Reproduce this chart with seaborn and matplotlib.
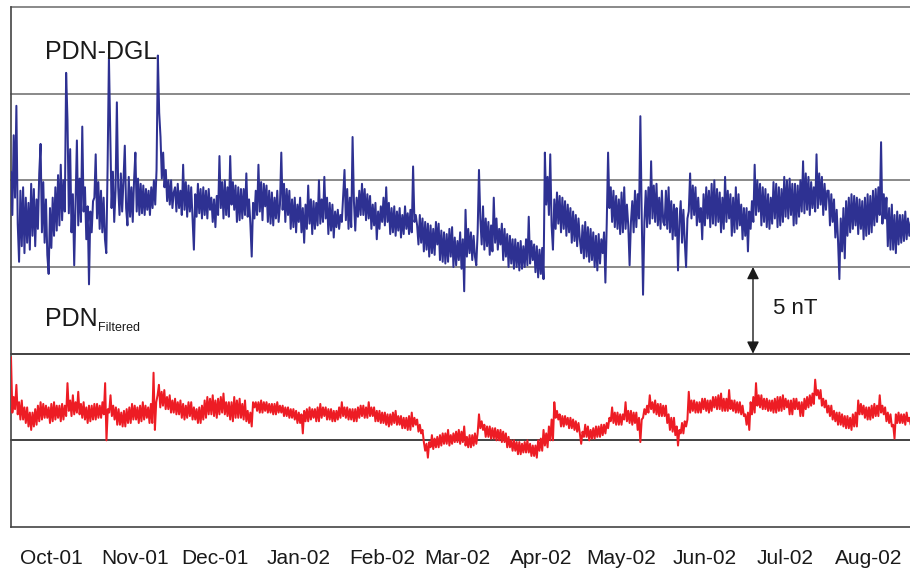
import numpy as np
import pandas as pd
import matplotlib
matplotlib.use("Agg")
import matplotlib.pyplot as plt
import matplotlib.dates as mdates
import seaborn as sns

# Field values (nT), two samples per day, one list per month, Oct 2001 .. Aug 2002
months = ["2001-10", "2001-11", "2001-12", "2002-01", "2002-02", "2002-03",
          "2002-04", "2002-05", "2002-06", "2002-07", "2002-08"]

dgl_oct = [20.5, 18.0, 22.6, 19.0, 24.3, 17.5, 15.3, 19.4, 16.2, 19.6, 15.8, 19.0, 16.4, 18.7, 16.0, 19.8,
           16.8, 19.5, 16.2, 18.9, 17.2, 20.4, 22.1, 17.0, 19.9, 16.4, 18.9, 15.7, 14.6, 18.4, 16.1, 19.0,
           16.8, 19.6, 17.1, 20.3, 17.4, 20.9, 17.7, 20.0, 18.2, 26.2, 23.5, 18.1, 21.8, 17.0, 19.2, 15.1,
           18.8, 22.3, 17.4, 20.1, 17.6, 23.1, 18.2, 19.6, 16.6, 18.5, 14.0, 18.2, 17.0, 18.8]
dgl_nov = [19.0, 21.5, 17.8, 19.9, 17.2, 19.4, 17.0, 19.0, 16.6, 15.8, 20.8, 27.1, 22.8, 18.4, 20.5, 17.6,
           19.4, 24.5, 19.6, 18.0, 20.4, 18.2, 20.0, 22.0, 18.4, 17.4, 20.2, 17.9, 19.6, 17.6, 20.0, 21.6,
           18.2, 20.1, 18.0, 19.8, 18.1, 19.7, 18.0, 19.5, 18.3, 19.4, 18.0, 19.6, 18.4, 20.0, 18.6, 20.6,
           27.2, 23.9, 22.5, 20.1, 21.6, 19.6, 20.6, 18.8, 20.0, 18.6, 20.0, 18.4, 19.3]
dgl_dec = [19.6, 18.2, 19.8, 18.4, 19.4, 18.0, 20.9, 18.3, 19.9, 17.9, 19.7, 18.2, 19.6, 17.8, 16.0, 19.2,
           17.9, 19.8, 18.1, 19.5, 17.8, 19.6, 18.0, 19.4, 17.8, 19.5, 18.3, 19.0, 17.6, 18.9, 17.3, 19.1,
           18.0, 21.4, 18.4, 19.9, 17.8, 20.0, 18.0, 19.6, 17.9, 21.4, 18.6, 19.9, 18.3, 19.7, 17.6, 19.6,
           17.7, 19.5, 17.8, 19.5, 18.0, 20.4, 17.9, 18.9, 17.5, 15.6, 18.7, 17.8, 19.4, 18.0]
dgl_jan = [20.9, 18.2, 19.9, 17.7, 19.8, 18.5, 19.7, 17.6, 19.4, 17.5, 19.3, 17.4, 19.0, 17.8, 19.4, 17.6,
           18.6, 21.6, 18.3, 19.8, 17.6, 19.5, 18.0, 19.4, 17.2, 18.9, 17.3, 19.0, 17.0, 18.6, 17.6, 19.0,
           17.0, 18.4, 16.4, 18.6, 17.2, 19.7, 17.5, 18.9, 16.9, 18.8, 17.2, 18.7, 17.4, 20.0, 17.5, 18.9,
           17.6, 20.2, 17.8, 19.0, 16.9, 18.7, 17.1, 18.6, 16.7, 18.2, 17.3, 18.3, 17.2, 18.0]
dgl_feb = [17.6, 19.1, 20.6, 17.7, 19.5, 17.2, 19.0, 17.3, 22.5, 18.8, 17.1, 19.0, 17.9, 19.4, 18.0, 19.8,
           18.0, 19.5, 17.7, 19.2, 17.8, 19.1, 17.2, 18.6, 17.4, 18.7, 16.6, 18.2, 17.2, 18.5, 17.6, 19.0,
           17.4, 19.6, 17.6, 18.7, 16.9, 18.4, 17.0, 18.5, 16.8, 18.2, 17.1, 18.4, 16.7, 18.0, 16.9, 18.5,
           17.2, 18.1, 16.9, 18.3, 17.0, 20.8, 17.6, 18.0]
dgl_mar = [17.4, 16.3, 18.0, 16.4, 17.8, 15.9, 17.6, 16.0, 17.5, 15.6, 17.4, 15.8, 17.2, 15.7, 17.6, 16.3,
           17.5, 15.4, 17.1, 15.3, 17.0, 15.2, 16.9, 15.3, 17.2, 15.6, 17.3, 15.0, 16.7, 15.1, 16.5, 15.4,
           17.0, 14.9, 16.6, 13.6, 18.3, 15.6, 17.2, 15.8, 17.0, 15.4, 16.8, 15.6, 15.1, 17.0, 20.6, 17.8,
           16.3, 18.5, 16.0, 17.8, 16.2, 17.6, 15.7, 17.4, 15.9, 19.0, 16.4, 17.8, 16.0, 17.2]
dgl_apr = [16.3, 17.5, 15.4, 17.2, 15.6, 16.9, 15.0, 16.8, 15.2, 16.6, 14.9, 16.6, 15.0, 16.4, 14.8, 16.5,
           14.9, 16.2, 15.0, 16.6, 15.1, 17.9, 15.2, 16.5, 15.4, 16.3, 14.7, 16.2, 14.4, 16.0, 14.6, 16.1,
           14.3, 21.6, 18.6, 20.2, 18.0, 21.5, 17.4, 16.0, 18.9, 17.2, 19.3, 17.5, 19.1, 17.0, 19.0, 17.2,
           18.8, 16.8, 18.6, 17.0, 18.4, 16.4, 18.2, 16.5, 18.0, 16.2, 17.8, 16.6]
dgl_may = [15.8, 17.4, 15.5, 17.6, 15.6, 17.3, 15.3, 17.2, 15.4, 17.0, 15.0, 16.8, 14.8, 16.9, 15.2, 16.6,
           15.8, 17.0, 14.1, 17.5, 21.6, 18.4, 19.6, 17.6, 19.4, 17.3, 19.1, 17.2, 18.9, 16.9, 19.3, 17.0,
           19.6, 17.2, 18.6, 17.4, 15.1, 17.6, 18.8, 17.0, 19.4, 17.3, 19.2, 17.8, 23.7, 18.0, 13.4, 17.6,
           19.4, 17.3, 19.6, 17.5, 21.1, 17.8, 19.7, 17.6, 19.8, 17.4, 19.0, 17.2, 19.4, 17.6]
dgl_jun = [17.4, 19.4, 17.2, 19.6, 17.0, 18.8, 16.6, 18.6, 16.8, 18.4, 14.8, 17.6, 18.8, 16.4, 18.3, 16.5,
           15.0, 17.8, 18.2, 20.4, 17.8, 19.7, 18.0, 19.6, 17.4, 19.0, 17.6, 18.4, 16.6, 19.2, 17.4, 19.6,
           17.8, 19.4, 17.3, 19.8, 17.5, 20.0, 17.4, 19.5, 17.6, 19.3, 17.0, 19.0, 17.2, 20.2, 17.6, 19.4,
           17.8, 19.2, 16.8, 19.0, 17.0, 19.6, 17.2, 19.2, 17.4, 18.6, 16.6, 18.4]
dgl_jul = [16.8, 18.4, 15.9, 18.2, 17.2, 18.8, 17.6, 20.9, 18.0, 20.0, 18.2, 19.8, 17.4, 19.6, 17.6, 19.5,
           17.3, 19.2, 17.2, 19.0, 17.5, 19.9, 17.8, 19.8, 17.3, 19.6, 17.4, 19.5, 17.6, 20.2, 17.9, 20.0,
           17.8, 20.1, 18.0, 19.8, 17.4, 19.8, 17.5, 19.7, 17.9, 20.0, 18.2, 21.1, 18.1, 20.4, 18.3, 20.2,
           18.0, 19.9, 18.4, 19.6, 18.2, 21.5, 18.4, 20.4, 18.6, 20.2, 18.0, 19.8, 18.3, 19.4]
dgl_aug = [19.4, 17.4, 19.2, 17.6, 18.9, 16.7, 18.3, 16.5, 14.3, 17.8, 15.9, 18.4, 15.5, 18.8, 16.8, 19.0,
           17.0, 19.2, 17.2, 19.1, 17.4, 19.0, 16.9, 18.9, 17.2, 18.8, 16.6, 19.0, 16.8, 19.2, 16.9, 19.1,
           17.0, 19.4, 17.4, 19.5, 17.6, 19.6, 18.0, 22.2, 17.5, 19.2, 17.8, 19.0, 16.2, 18.4, 16.0, 18.6,
           16.0, 18.0, 15.8, 18.2, 16.3, 18.0, 16.4, 18.0, 16.5, 18.2, 16.6, 17.8, 16.8, 17.6]

flt_oct = [9.8, 6.6, 7.5, 6.8, 8.2, 6.5, 7.2, 6.2, 7.3, 6.2, 6.9, 6.0, 6.9, 5.8, 6.6, 5.6,
           6.6, 5.8, 6.8, 5.9, 7.0, 6.1, 7.2, 6.2, 7.1, 6.3, 7.0, 6.3, 6.9, 6.0, 7.1, 6.1,
           7.2, 6.2, 7.0, 6.3, 7.0, 6.1, 7.1, 6.2, 7.0, 6.4, 8.3, 6.7, 7.3, 6.4, 7.6, 6.5,
           7.2, 6.6, 7.8, 6.5, 7.1, 6.3, 7.2, 6.2, 6.9, 6.0, 7.0, 6.1, 7.0, 6.2]
flt_nov = [7.1, 6.2, 7.1, 6.3, 7.0, 6.3, 7.2, 6.5, 8.3, 5.0, 6.8, 6.6, 7.6, 6.4, 7.0, 6.2,
           6.9, 5.9, 6.8, 5.9, 6.6, 5.8, 6.7, 5.8, 6.8, 6.0, 6.9, 6.0, 7.1, 6.2, 7.0, 6.2,
           6.9, 6.0, 7.0, 6.1, 7.2, 6.2, 7.0, 6.3, 6.9, 6.0, 7.1, 6.0, 8.9, 5.6, 7.2, 7.6,
           8.2, 6.9, 7.8, 7.0, 7.9, 6.8, 7.5, 6.8, 7.6, 6.6, 7.3, 6.6]
flt_dec = [7.4, 6.5, 7.2, 6.5, 7.3, 6.3, 7.1, 6.2, 7.0, 6.3, 7.2, 6.4, 7.2, 6.2, 6.9, 6.2,
           6.8, 6.0, 6.9, 6.0, 7.0, 6.2, 7.3, 6.3, 7.5, 6.5, 7.4, 6.5, 7.6, 6.4, 7.3, 6.3,
           7.4, 6.5, 7.5, 6.6, 7.7, 6.5, 7.2, 6.4, 7.2, 6.2, 7.2, 6.1, 7.5, 6.3, 7.3, 6.3,
           7.4, 6.3, 7.1, 6.2, 7.3, 6.1, 6.7, 6.0, 6.6, 5.8, 7.2, 6.9, 7.2, 6.7]
flt_jan = [7.2, 6.6, 7.3, 6.6, 7.2, 6.7, 7.2, 6.6, 7.1, 6.6, 7.1, 6.5, 7.1, 6.5, 7.2, 6.6,
           7.0, 6.6, 7.0, 6.4, 6.9, 6.4, 6.9, 6.3, 6.8, 6.3, 6.8, 6.2, 6.7, 6.0, 6.6, 6.0,
           6.5, 5.4, 6.7, 6.1, 6.8, 6.1, 6.9, 6.2, 6.8, 6.3, 6.8, 6.1, 6.9, 6.1, 7.1, 6.3,
           6.9, 6.4, 6.9, 6.2, 6.8, 6.2, 6.8, 6.1, 6.7, 6.1, 6.7, 6.2, 6.9, 6.3]
flt_feb = [7.2, 6.4, 6.9, 6.3, 6.9, 6.2, 6.8, 6.2, 6.8, 6.1, 6.8, 6.1, 6.9, 6.3, 7.0, 6.4,
           7.0, 6.3, 6.9, 6.3, 7.2, 6.4, 6.9, 6.4, 6.9, 6.1, 6.7, 6.1, 6.7, 6.0, 6.6, 6.0,
           6.6, 5.9, 6.5, 5.8, 6.5, 5.9, 6.6, 6.0, 6.7, 5.9, 6.4, 5.9, 6.4, 5.7, 6.3, 5.7,
           6.3, 5.6, 6.4, 5.6, 6.6, 5.8, 6.3, 5.9]
flt_mar = [6.2, 5.5, 5.9, 5.4, 5.6, 4.9, 4.4, 4.8, 4.0, 4.9, 4.6, 5.3, 4.5, 5.1, 4.6, 5.2,
           4.6, 5.3, 4.7, 5.4, 4.8, 5.4, 4.8, 5.6, 4.7, 5.3, 4.8, 5.4, 4.9, 5.5, 4.9, 5.6,
           4.8, 5.5, 4.9, 5.8, 4.7, 5.2, 4.6, 5.3, 4.6, 5.3, 4.7, 5.4, 4.8, 5.4, 6.5, 5.7,
           6.1, 5.6, 5.9, 5.2, 5.8, 5.2, 5.8, 5.1, 5.7, 5.1, 5.7, 5.0, 5.6, 5.0]
flt_apr = [5.6, 4.9, 5.5, 4.9, 5.4, 4.6, 5.2, 4.6, 5.0, 4.4, 5.0, 4.4, 4.9, 4.2, 4.9, 4.2,
           4.8, 4.3, 4.9, 4.3, 5.0, 4.3, 4.8, 4.1, 4.7, 4.1, 4.7, 4.0, 5.0, 4.4, 5.1, 4.4,
           5.6, 4.7, 5.4, 4.6, 5.8, 5.0, 6.2, 5.0, 7.2, 6.3, 6.7, 6.2, 6.5, 5.8, 6.4, 5.8,
           6.4, 5.9, 6.3, 5.7, 6.3, 5.7, 6.2, 5.6, 6.1, 5.5, 6.0, 5.4]
flt_may = [4.8, 5.5, 5.2, 5.9, 5.2, 5.8, 5.0, 5.6, 5.1, 5.7, 5.1, 5.8, 5.2, 5.8, 5.2, 5.9,
           5.3, 5.9, 5.4, 6.0, 5.7, 6.3, 6.1, 6.9, 6.0, 6.6, 5.9, 6.6, 5.9, 6.5, 5.9, 6.5,
           6.2, 7.2, 6.1, 6.7, 6.0, 6.7, 5.9, 6.6, 6.0, 6.6, 5.6, 6.3, 4.9, 6.2, 6.3, 6.8,
           6.5, 7.0, 6.6, 7.6, 6.8, 7.2, 6.6, 7.3, 6.5, 7.1, 6.4, 7.1, 6.4, 7.0]
flt_jun = [6.4, 7.0, 6.0, 6.5, 5.6, 6.3, 5.5, 6.3, 5.3, 5.8, 4.7, 5.6, 5.4, 6.0, 5.4, 6.1,
           5.8, 6.2, 7.8, 6.6, 7.3, 6.7, 7.3, 6.6, 7.2, 6.6, 7.2, 6.6, 7.4, 6.8, 7.4, 6.7,
           7.3, 6.6, 7.3, 6.7, 7.5, 6.9, 7.5, 6.8, 7.6, 6.8, 7.7, 6.7, 7.4, 6.7, 7.4, 6.7,
           7.9, 6.8, 7.3, 6.7, 7.3, 6.6, 7.2, 6.6, 7.2, 6.5, 7.0, 6.4]
flt_jul = [6.5, 5.9, 6.6, 5.6, 7.2, 6.5, 7.5, 6.6, 8.3, 7.0, 7.6, 6.9, 7.6, 6.8, 7.4, 6.8,
           7.4, 6.7, 7.3, 6.7, 7.3, 6.6, 7.4, 6.6, 7.5, 6.7, 7.5, 6.7, 7.6, 6.8, 7.4, 6.9,
           7.3, 6.5, 7.3, 6.5, 7.4, 6.8, 7.4, 6.8, 7.2, 6.4, 7.2, 6.4, 7.4, 6.8, 7.5, 6.9,
           7.6, 7.0, 7.7, 7.1, 8.5, 7.6, 7.9, 7.4, 7.9, 7.0, 7.4, 6.9, 7.3, 6.6]
flt_aug = [7.0, 6.4, 7.0, 6.2, 6.7, 6.1, 6.6, 5.9, 6.6, 5.9, 6.5, 5.8, 6.4, 5.7, 6.4, 5.7,
           6.3, 5.6, 6.5, 5.8, 6.6, 5.8, 7.3, 6.5, 7.1, 6.5, 7.0, 6.3, 6.9, 6.2, 6.9, 6.2,
           7.0, 6.3, 7.1, 6.4, 7.0, 6.4, 7.6, 6.6, 7.0, 6.5, 6.9, 6.1, 6.6, 6.0, 6.5, 5.8,
           5.9, 5.1, 6.5, 6.0, 6.6, 6.0, 6.5, 6.0, 6.5, 5.9, 6.6, 6.1, 6.3, 5.9]

dgl_months = [dgl_oct, dgl_nov, dgl_dec, dgl_jan, dgl_feb, dgl_mar,
              dgl_apr, dgl_may, dgl_jun, dgl_jul, dgl_aug]
flt_months = [flt_oct, flt_nov, flt_dec, flt_jan, flt_feb, flt_mar,
              flt_apr, flt_may, flt_jun, flt_jul, flt_aug]


def month_series(month_lists):
    """Spread each month's samples evenly over that month."""
    times, vals = [], []
    for m, vs in zip(months, month_lists):
        start = pd.Timestamp(m + "-01")
        span = (start + pd.offsets.MonthBegin(1)) - start
        n = len(vs)
        for i, v in enumerate(vs):
            times.append(start + span * (i / n))
            vals.append(v)
    return pd.DataFrame({"time": times, "value": vals})


dgl = month_series(dgl_months)
flt = month_series(flt_months)

sns.set_style("white")
plt.rcParams["font.family"] = ["Liberation Sans", "DejaVu Sans"]

W, H = 910, 573
fig = plt.figure(figsize=(W / 100, H / 100), dpi=100)
ax = fig.add_axes([11 / W, 46 / H, 901 / W, 520 / H])

for yv in range(5, 31, 5):
    c = "#333333" if yv in (5, 10) else "#808080"
    ax.axhline(yv, color=c, lw=1.3, zorder=1, clip_on=False)

sns.lineplot(data=dgl, x="time", y="value", ax=ax, color="#2E3192",
             linewidth=1.45, estimator=None, zorder=3)
sns.lineplot(data=flt, x="time", y="value", ax=ax, color="#ED1C24",
             linewidth=1.45, estimator=None, zorder=3)

ax.set_xlim(pd.Timestamp("2001-10-01"), pd.Timestamp("2002-09-01"))
ax.set_ylim(0, 30)
ax.set_xlabel("")
ax.set_ylabel("")

# Month boundaries carry ticks; labels sit in the middle of each month
ax.xaxis.set_major_locator(mdates.MonthLocator())
ax.xaxis.set_major_formatter(plt.NullFormatter())
ax.xaxis.set_minor_locator(mdates.MonthLocator(bymonthday=16))
ax.xaxis.set_minor_formatter(mdates.DateFormatter("%b-%y"))
ax.tick_params(axis="x", which="major", direction="out", length=4, width=1, color="#444444")
ax.tick_params(axis="x", which="minor", length=0, pad=16, labelsize=15, labelcolor="#1a1a1a")

ax.set_yticks(range(0, 31, 5))
ax.set_yticklabels([])
ax.tick_params(axis="y", direction="out", length=4, width=1, color="#444444")

for side in ("top", "right"):
    ax.spines[side].set_visible(False)
for side in ("left", "bottom"):
    ax.spines[side].set_color("#444444")
    ax.spines[side].set_linewidth(1.2)

ax.text((45 - 11) / 901, (527 - 52) / 520, "PDN-DGL", transform=ax.transAxes,
        fontsize=18, color="#1a1a1a", ha="left", va="center", zorder=5)

pdn = ax.text((45 - 11) / 901, (527 - 319) / 520, "PDN", transform=ax.transAxes,
              fontsize=18, color="#1a1a1a", ha="left", va="center", zorder=5)
ax.annotate("Filtered", xy=(1.0, 0.12), xycoords=pdn, fontsize=9,
            color="#1a1a1a", ha="left", va="center", zorder=5)

# 5 nT scale bar between two grid lines
ax.annotate("", xy=((753 - 11) / 901, 15), xytext=((753 - 11) / 901, 10),
            xycoords=("axes fraction", "data"), textcoords=("axes fraction", "data"),
            arrowprops=dict(arrowstyle="<|-|>", color="#1a1a1a", lw=1.0,
                            mutation_scale=18, shrinkA=0, shrinkB=0), zorder=6)
ax.text((773 - 11) / 901, 12.6, "5 nT", transform=ax.get_yaxis_transform(),
        fontsize=16, color="#1a1a1a", ha="left", va="center", zorder=5)

fig.savefig("out.png", dpi=100)
